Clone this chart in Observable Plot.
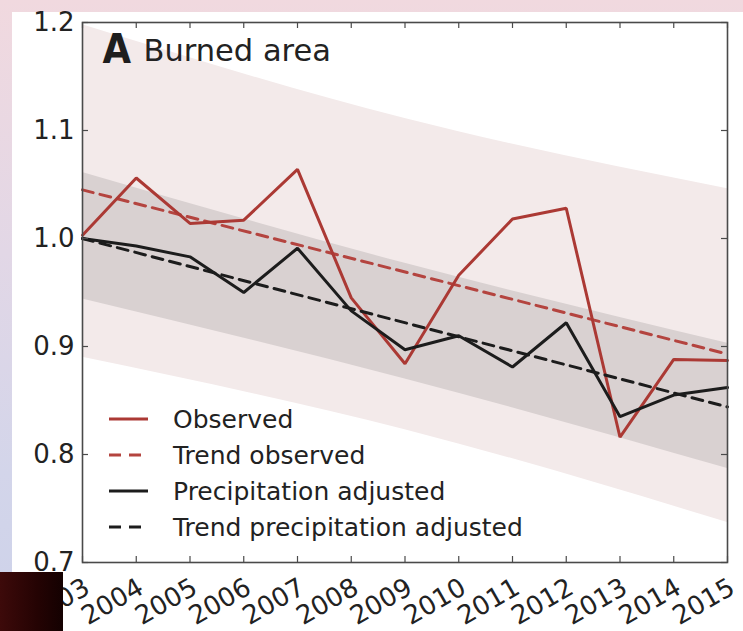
<!DOCTYPE html>
<html>
<head>
<meta charset="utf-8">
<script src="https://cdn.jsdelivr.net/npm/d3@7"></script>
<script src="https://cdn.jsdelivr.net/npm/@observablehq/plot@0.6"></script>
<style>
  html, body { margin: 0; padding: 0; }
  body {
    width: 743px; height: 631px; overflow: hidden; position: relative;
    background: linear-gradient(to bottom, #f1d9df 0%, #e2d7e6 40%, #d3d5ea 75%, #cdd2ea 100%);
    font-family: "DejaVu Sans", sans-serif;
  }
  #panel { position: absolute; left: 12px; top: 12px; width: 731px; height: 619px; background: #ffffff; }
  #chart { position: absolute; left: 0; top: 0; }
  #blot { position: absolute; left: 0; top: 572px; width: 63px; height: 59px;
          background: linear-gradient(to right, #3d0a0a, #240303 60%, #140101); z-index: 5; }
</style>
</head>
<body>
<div id="panel"></div>
<div id="chart"></div>
<div id="blot"></div>
<script>
// ---- data ----
const years = [2003, 2004, 2005, 2006, 2007, 2008, 2009, 2010, 2011, 2012, 2013, 2014, 2015];
const observed = [1.003, 1.056, 1.014, 1.017, 1.064, 0.945, 0.884, 0.966, 1.018, 1.028, 0.816, 0.888, 0.887];
const adjusted = [1.000, 0.993, 0.983, 0.950, 0.991, 0.933, 0.897, 0.910, 0.881, 0.922, 0.835, 0.855, 0.862];

const trendYears = [2003, 2015];
const trendObserved = [1.045, 0.893];
const trendAdjusted = [1.000, 0.844];

const bandYears = [2003, 2009, 2015];
const outerLow = [0.890, 0.823, 0.737];
const outerHigh = [1.198, 1.111, 1.046];
const innerLow = [0.944, 0.870, 0.787];
const innerHigh = [1.061, 0.977, 0.903];

const yTicks = [0.7, 0.8, 0.9, 1.0, 1.1, 1.2];
const legendLabels = ["Observed", "Trend observed", "Precipitation adjusted", "Trend precipitation adjusted"];
const panelLetter = "A";
const panelTitle = "Burned area";

// ---- tables ----
const series = years.map((year, i) => ({year, observed: observed[i], adjusted: adjusted[i]}));
const trends = trendYears.map((year, i) => ({year, obs: trendObserved[i], adj: trendAdjusted[i]}));
const bands = bandYears.map((year, i) => ({year, oLow: outerLow[i], oHigh: outerHigh[i], iLow: innerLow[i], iHigh: innerHigh[i]}));

const W = 743, H = 631, mL = 82, mR = 16, mT = 22, mB = 69;
const frameW = W - mL - mR, frameH = H - mT - mB, tickLen = 6;
const red = "#ab3934", redDash = "#b4443f", black = "#1c1c1c", axisColor = "#4a4a4a";

const plot = Plot.plot({
  width: W, height: H,
  marginLeft: mL, marginRight: mR, marginTop: mT, marginBottom: mB,
  x: {domain: [2003, 2015], axis: null},
  y: {domain: [0.7, 1.2], axis: null},
  style: {background: "transparent", fontFamily: "DejaVu Sans", color: "#222", overflow: "visible"},
  marks: [
    Plot.areaY(bands, {x: "year", y1: "oLow", y2: "oHigh", fill: "#f3eaea", curve: "natural"}),
    Plot.areaY(bands, {x: "year", y1: "iLow", y2: "iHigh", fill: "#d9d1d1", curve: "natural"}),
    Plot.lineY(trends, {x: "year", y: "obs", stroke: redDash, strokeWidth: 3, strokeDasharray: "11,7"}),
    Plot.lineY(series, {x: "year", y: "observed", stroke: red, strokeWidth: 3, strokeLinejoin: "miter"}),
    Plot.lineY(trends, {x: "year", y: "adj", stroke: black, strokeWidth: 3, strokeDasharray: "11,7"}),
    Plot.lineY(series, {x: "year", y: "adjusted", stroke: black, strokeWidth: 3, strokeLinejoin: "miter"}),
    // inward ticks on all four sides
    Plot.tickX(years, {x: d => d, insetTop: frameH - tickLen, stroke: axisColor, strokeWidth: 1.2}),
    Plot.tickX(years, {x: d => d, insetBottom: frameH - tickLen, stroke: axisColor, strokeWidth: 1.2}),
    Plot.tickY(yTicks, {y: d => d, insetRight: frameW - tickLen, stroke: axisColor, strokeWidth: 1.2}),
    Plot.tickY(yTicks, {y: d => d, insetLeft: frameW - tickLen, stroke: axisColor, strokeWidth: 1.2}),
    Plot.frame({stroke: axisColor, strokeWidth: 1.6}),
    // tick labels
    Plot.text(yTicks, {y: d => d, frameAnchor: "left", text: d => d.toFixed(1), textAnchor: "end", dx: -8, fontSize: 26, fill: "#222"}),
    Plot.text(years, {x: d => d, frameAnchor: "bottom", text: d => String(d), textAnchor: "end", lineAnchor: "bottom", rotate: -30, dx: 9, dy: 30, fontSize: 26, fill: "#222"}),
    // panel title
    Plot.text([panelLetter], {frameAnchor: "top-left", text: d => d, dx: 20, dy: 40, lineAnchor: "bottom", textAnchor: "start", fontSize: 41, fontWeight: "bold", fontFamily: "DejaVu Sans Condensed", fill: "#1e1e1e"}),
    Plot.text([panelTitle], {frameAnchor: "top-left", text: d => d, dx: 61, dy: 38, lineAnchor: "bottom", textAnchor: "start", fontSize: 30.5, fill: "#222"})
  ]
});

// legend (no box)
const svg = d3.select(plot);
const legendStyle = [
  {stroke: red, dash: null},
  {stroke: redDash, dash: "12,8"},
  {stroke: black, dash: null},
  {stroke: black, dash: "12,8"}
];
const lg = svg.append("g")
  .attr("font-family", "DejaVu Sans").attr("font-size", 25)
  .attr("fill", "#222").attr("text-anchor", "start");
legendLabels.forEach((label, i) => {
  const y = 419 + i * 36;
  lg.append("line")
    .attr("x1", 109).attr("x2", legendStyle[i].dash ? 142 : 148)
    .attr("y1", y).attr("y2", y)
    .attr("stroke", legendStyle[i].stroke).attr("stroke-width", 3)
    .attr("stroke-dasharray", legendStyle[i].dash);
  lg.append("text").attr("x", 173).attr("y", y).attr("dy", "0.36em")
    .attr("text-anchor", "start").text(label);
});

document.getElementById("chart").appendChild(plot);
</script>
</body>
</html>
